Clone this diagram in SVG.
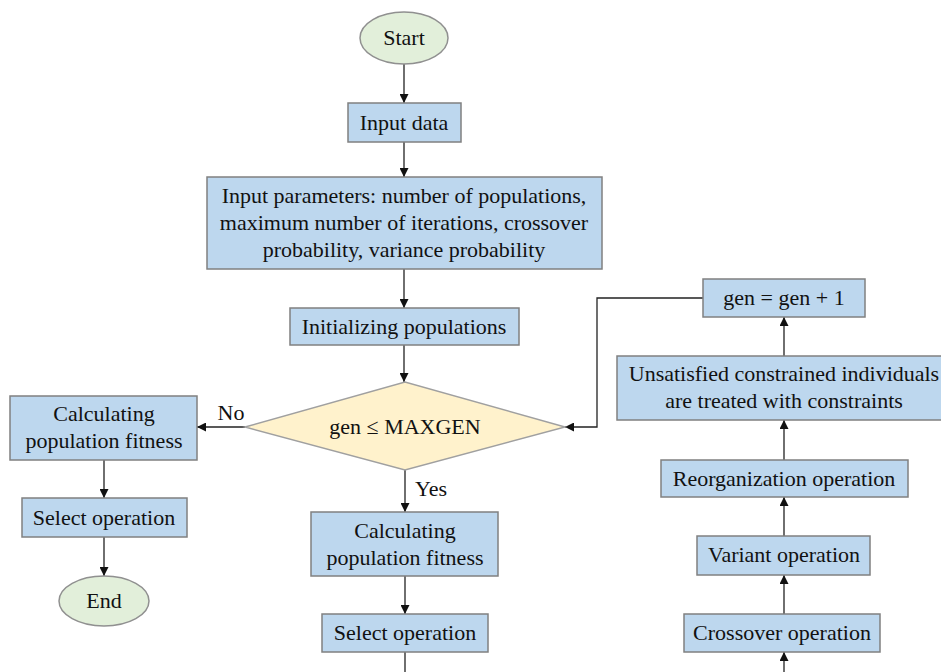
<svg xmlns="http://www.w3.org/2000/svg" width="941" height="672" viewBox="0 0 941 672">
<defs>
<style>
.box{fill:#BDD7EE;stroke:#808080;stroke-width:1.5}
.term{fill:#E2EFDA;stroke:#909090;stroke-width:1.5}
.dec{fill:#FFF2CC;stroke:#A0A0A0;stroke-width:1.5}
.t{font-family:"Liberation Serif","Times New Roman",serif;font-size:22px;fill:#111;text-anchor:middle;dominant-baseline:central}
.c{fill:none;stroke:#222;stroke-width:1.3}
</style>
<marker id="ah" viewBox="0 0 10 10" refX="10" refY="5" markerWidth="9" markerHeight="9" markerUnits="userSpaceOnUse" orient="auto">
<path d="M0,0 L10,5 L0,10 z" fill="#111"/>
</marker>
</defs>
<rect width="941" height="672" fill="#fff"/>
<g id="connectors">
<line class="c" x1="404" y1="64" x2="404" y2="103" marker-end="url(#ah)"/>
<line class="c" x1="404" y1="142" x2="404" y2="177" marker-end="url(#ah)"/>
<line class="c" x1="404" y1="269" x2="404" y2="308" marker-end="url(#ah)"/>
<line class="c" x1="404" y1="345" x2="404" y2="382" marker-end="url(#ah)"/>
<line class="c" x1="245" y1="427" x2="197" y2="427" marker-end="url(#ah)"/>
<line class="c" x1="104" y1="460" x2="104" y2="498" marker-end="url(#ah)"/>
<line class="c" x1="104" y1="537" x2="104" y2="576" marker-end="url(#ah)"/>
<line class="c" x1="405" y1="470" x2="405" y2="512" marker-end="url(#ah)"/>
<line class="c" x1="405" y1="576" x2="405" y2="614" marker-end="url(#ah)"/>
<line class="c" x1="405" y1="652" x2="405" y2="672"/>
<line class="c" x1="784" y1="672" x2="784" y2="652" marker-end="url(#ah)"/>
<line class="c" x1="784" y1="614" x2="784" y2="575" marker-end="url(#ah)"/>
<line class="c" x1="784" y1="536" x2="784" y2="497" marker-end="url(#ah)"/>
<line class="c" x1="784" y1="460" x2="784" y2="420" marker-end="url(#ah)"/>
<line class="c" x1="784" y1="356" x2="784" y2="317" marker-end="url(#ah)"/>
<polyline class="c" points="703,298 597,298 597,427 565,427" marker-end="url(#ah)"/>
<text class="t" x="231" y="412">No</text>
<text class="t" x="431" y="488">Yes</text>
</g>
<g id="start">
<ellipse class="term" cx="404" cy="38" rx="44" ry="26"/>
<text class="t" x="404" y="37">Start</text>
</g>
<g id="input-data">
<rect class="box" x="348" y="103" width="113" height="39"/>
<text class="t" x="404" y="122">Input data</text>
</g>
<g id="input-params">
<rect class="box" x="207" y="177" width="395" height="92"/>
<text class="t" x="404" y="195">Input parameters: number of populations,</text>
<text class="t" x="404" y="222">maximum number of iterations, crossover</text>
<text class="t" x="404" y="249">probability, variance probability</text>
</g>
<g id="init">
<rect class="box" x="290" y="308" width="229" height="37"/>
<text class="t" x="404" y="326">Initializing populations</text>
</g>
<g id="decision">
<polygon class="dec" points="245,427 405,382 565,427 405,470"/>
<text class="t" x="405" y="426">gen ≤ MAXGEN</text>
</g>
<g id="calc-left">
<rect class="box" x="10" y="396" width="187" height="64"/>
<text class="t" x="104" y="413">Calculating</text>
<text class="t" x="104" y="440">population fitness</text>
</g>
<g id="select-left">
<rect class="box" x="22" y="498" width="165" height="39"/>
<text class="t" x="104" y="517">Select operation</text>
</g>
<g id="end">
<ellipse class="term" cx="104" cy="601" rx="45" ry="25"/>
<text class="t" x="104" y="600">End</text>
</g>
<g id="calc-mid">
<rect class="box" x="311" y="512" width="187" height="64"/>
<text class="t" x="405" y="530">Calculating</text>
<text class="t" x="405" y="557">population fitness</text>
</g>
<g id="select-mid">
<rect class="box" x="322" y="614" width="166" height="38"/>
<text class="t" x="405" y="632">Select operation</text>
</g>
<g id="crossover">
<rect class="box" x="684" y="614" width="196" height="38"/>
<text class="t" x="782" y="632">Crossover operation</text>
</g>
<g id="variant">
<rect class="box" x="697" y="536" width="173" height="39"/>
<text class="t" x="784" y="554">Variant operation</text>
</g>
<g id="reorg">
<rect class="box" x="661" y="460" width="247" height="37"/>
<text class="t" x="784" y="478">Reorganization operation</text>
</g>
<g id="constraints">
<rect class="box" x="617" y="356" width="330" height="64"/>
<text class="t" x="784" y="373">Unsatisfied constrained individuals</text>
<text class="t" x="784" y="400">are treated with constraints</text>
</g>
<g id="gen-inc">
<rect class="box" x="703" y="279" width="162" height="38"/>
<text class="t" x="784" y="297">gen = gen + 1</text>
</g>
</svg>
